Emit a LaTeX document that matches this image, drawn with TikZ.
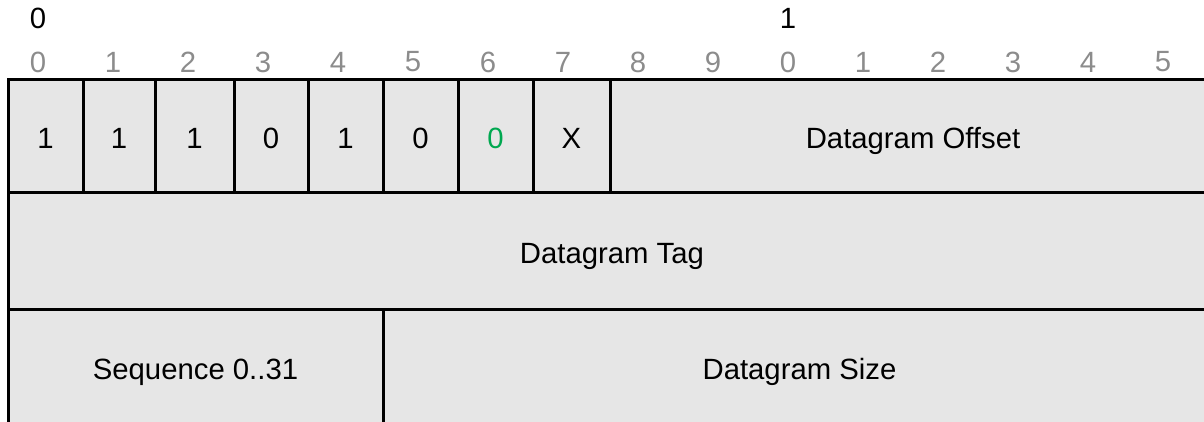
\documentclass[tikz,border=0pt]{standalone}
\usepackage{fontspec}
\setmainfont{Liberation Sans}
\usetikzlibrary{positioning}
\newcommand{\field}[6]{%
  % #1 name, #2 left x, #3 top y, #4 w, #5 h, #6 label
  \node[fld, minimum width=#4pt, minimum height=#5pt] (#1) at (#2+#4/2,#3+#5/2) {#6};%
}

\begin{document}
\begin{tikzpicture}[x=1pt, y=-1pt,
  fld/.style={draw=black, fill=fldcol, line width=3pt, inner sep=0pt, outer sep=0pt,
    text height=25pt, text depth=0pt,
    font=\fontsize{29.3}{35}\selectfont, text=black},
  bitnum/.style={font=\fontsize{29.3}{35}\selectfont, text=numcol, inner sep=0pt},
  bytenum/.style={font=\fontsize{29.3}{35}\selectfont, text=black, inner sep=0pt}]

\definecolor{fldcol}{RGB}{230,230,230}
\definecolor{numcol}{RGB}{140,140,140}
\definecolor{flagcol}{RGB}{0,168,80}

\useasboundingbox (0,0) rectangle (1204,422);
\clip (0,0) rectangle (1204,422);

% ===== BIT RULER =====
\node[bytenum] (byte0) at (38,18) {0};
\node[bytenum] (byte1) at (788,18) {1};
\foreach \i in {0,...,15}{
  \pgfmathtruncatemacro{\d}{mod(\i,10)}
  \node[bitnum] (bit\i) at (38+75*\i,62) {\d};
}

% ===== FIRST ROW =====
\field{f0}{8}{80}{75}{113}{1}
\field{f1}{83}{80}{72}{113}{1}
\field{f2}{155}{80}{79}{113}{1}
\field{f3}{234}{80}{74}{113}{0}
\field{f4}{308}{80}{75}{113}{1}
\field{f5}{383}{80}{75}{113}{0}
\field{f6}{458}{80}{75}{113}{\textcolor{flagcol}{0}}
\field{f7}{533}{80}{77}{113}{X}
\field{offset}{610}{80}{606}{113}{Datagram Offset}

% ===== SECOND ROW =====
\field{tag}{8}{193}{1208}{116}{Datagram Tag}

% ===== THIRD ROW =====
\field{seq}{8}{309}{375}{116}{Sequence 0..31}
\field{size}{383}{309}{833}{116}{Datagram Size}

\end{tikzpicture}
\end{document}
